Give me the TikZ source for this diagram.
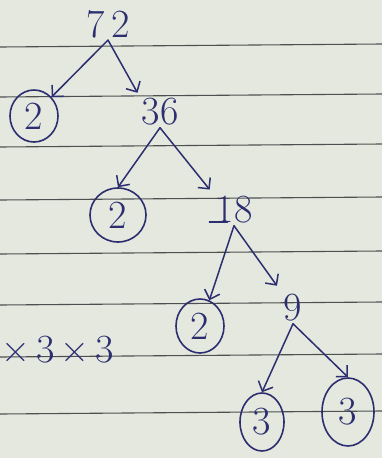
\documentclass[tikz,border=0pt]{standalone}
\usetikzlibrary{arrows.meta,shapes.geometric}
\definecolor{paper}{HTML}{E4E8DE}
\definecolor{rule}{HTML}{4E5050}
\definecolor{ink}{HTML}{2C2E70}
\tikzset{
  num/.style={text=ink, inner sep=2pt, font=\fontsize{40}{40}\selectfont},
  circ/.style={ellipse, draw=ink, line width=1.6pt, text=ink, inner sep=0pt,
               font=\fontsize{40}{40}\selectfont},
  arr/.style={draw=ink, line width=1.5pt, line cap=round,
              -{Straight Barb[length=8pt,width=16pt,line width=1.5pt]}},
  ruled/.style={draw=rule, line width=1.1pt}
}
\begin{document}
\begin{tikzpicture}[x=1pt,y=-1pt]
\fill[paper] (0,0) rectangle (382,458);
\useasboundingbox (0,0) rectangle (382,458);
% ruled lines
\foreach \yy in {45,95,145,198,252,303,355,412}
  \draw[ruled] (0,\yy+2) -- (382,\yy-1);
% numbers
\node[num] (n72) at (108,24) {7\hspace{6pt}2};
\node[circ, minimum width=48pt, minimum height=52pt] (c2a) at (34,116) {2};
\node[num] (n36) at (160,112) {36};
\node[circ, minimum width=56pt, minimum height=54pt] (c2b) at (118,215) {2};
\node[num] (n18) at (234,210) {18};
\node[circ, minimum width=48pt, minimum height=54pt] (c2c) at (200,326) {2};
\node[num] (n9) at (293,308) {9};
\node[circ, minimum width=44pt, minimum height=58pt] (c3a) at (262,422) {3};
\node[circ, minimum width=52pt, minimum height=68pt] (c3b) at (348,412) {3};
\node[num, anchor=west, inner sep=0pt] (prod) at (1,350) {×\hspace{6pt}3\hspace{6pt}×\hspace{6pt}3};
% foot of the 1 in 18
\draw[ink, line width=1.6pt, line cap=round] ([xshift=-4pt,yshift=4pt]n18.south west) -- ([xshift=14pt,yshift=4pt]n18.south west);
% connectors
\draw[arr] (n72.south) -- (c2a.north east);
\draw[arr, shorten >=4pt] (n72.south) -- (n36.north west);
\draw[arr] (n36.south) -- (c2b.north);
\draw[arr, shorten >=6pt] (n36.south) -- (n18.north west);
\draw[arr] (n18.south) -- (c2c.70);
\draw[arr, shorten >=8pt] (n18.south) -- (n9.north west);
\draw[arr] (n9.south) -- (c3a.north);
\draw[arr] (n9.south) -- (c3b.north);
\end{tikzpicture}
\end{document}
